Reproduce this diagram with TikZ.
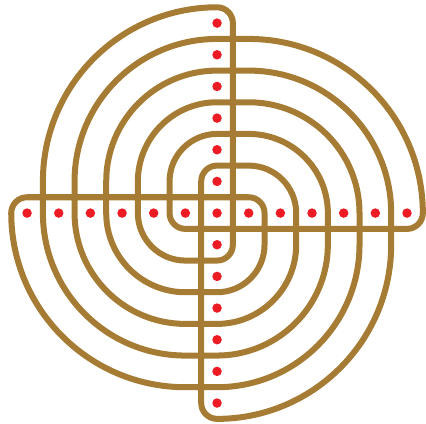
\documentclass[tikz,border=0pt]{standalone}
\definecolor{meanderbrown}{RGB}{166,124,52}
\definecolor{dotred}{RGB}{237,28,36}
\tikzset{
  meander/.style={draw=meanderbrown, line width=0.38cm, line join=round, line cap=round},
  reddot/.style={fill=dotred}
}
\begin{document}
\begin{tikzpicture}
\useasboundingbox (-13.71,-13.27) rectangle (13.20,13.46);
% one closed curve: quarter circles about (0,2), (2,0), (0,-2), (-2,0)
\draw[meander]
  (-1,-1) -- (-2,-1) arc[start angle=270, end angle=180, radius=1cm] -- (-3,1)
  -- (-3,2) arc[start angle=180, end angle=90, radius=3cm] -- (1,5)
  -- (2,5) arc[start angle=90, end angle=0, radius=5cm] -- (7,-1)
  -- (7,-2) arc[start angle=0, end angle=-90, radius=7cm] -- (-1,-9)
  -- (-2,-9) arc[start angle=270, end angle=180, radius=9cm] -- (-11,1)
  -- (-11,2) arc[start angle=180, end angle=90, radius=11cm]
             arc[start angle=90, end angle=0, radius=1cm]
  -- (1,-1)
  -- (1,-2) arc[start angle=0, end angle=-90, radius=1cm] -- (-1,-3)
  -- (-2,-3) arc[start angle=270, end angle=180, radius=3cm] -- (-5,1)
  -- (-5,2) arc[start angle=180, end angle=90, radius=5cm] -- (1,7)
  -- (2,7) arc[start angle=90, end angle=0, radius=7cm] -- (9,-1)
  -- (9,-2) arc[start angle=0, end angle=-90, radius=9cm] -- (-1,-11)
  -- (-2,-11) arc[start angle=270, end angle=180, radius=11cm]
              arc[start angle=180, end angle=90, radius=1cm]
  -- (1,1)
  -- (2,1) arc[start angle=90, end angle=0, radius=1cm] -- (3,-1)
  -- (3,-2) arc[start angle=0, end angle=-90, radius=3cm] -- (-1,-5)
  -- (-2,-5) arc[start angle=270, end angle=180, radius=5cm] -- (-7,1)
  -- (-7,2) arc[start angle=180, end angle=90, radius=7cm] -- (1,9)
  -- (2,9) arc[start angle=90, end angle=0, radius=9cm] -- (11,-1)
  -- (11,-2) arc[start angle=0, end angle=-90, radius=11cm]
              arc[start angle=270, end angle=180, radius=1cm]
  -- (-1,1)
  -- (-1,2) arc[start angle=180, end angle=90, radius=1cm] -- (1,3)
  -- (2,3) arc[start angle=90, end angle=0, radius=3cm] -- (5,-1)
  -- (5,-2) arc[start angle=0, end angle=-90, radius=5cm] -- (-1,-7)
  -- (-2,-7) arc[start angle=270, end angle=180, radius=7cm] -- (-9,1)
  -- (-9,2) arc[start angle=180, end angle=90, radius=9cm] -- (1,11)
  -- (2,11) arc[start angle=90, end angle=0, radius=11cm]
             arc[start angle=0, end angle=-90, radius=1cm]
  -- cycle;
% red dots
\foreach \i in {-6,...,6} {
  \fill[reddot] (2*\i,0) circle[radius=0.3cm];
}
\foreach \i in {-6,...,-1,1,2,...,6} {
  \fill[reddot] (0,2*\i) circle[radius=0.3cm];
}
\end{tikzpicture}
\end{document}
